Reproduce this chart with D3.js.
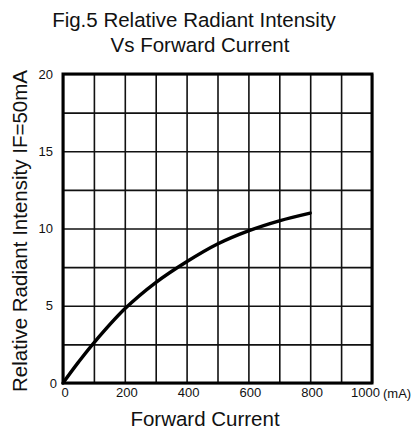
<!DOCTYPE html>
<html lang="en">
<head>
<meta charset="utf-8">
<title>Fig.5 Relative Radiant Intensity Vs Forward Current</title>
<script src="https://cdn.jsdelivr.net/npm/d3@7"></script>
<style>
  body { margin: 0; background: #fff; }
  text { font-family: "Liberation Sans", Arial, sans-serif; fill: #111; }
</style>
</head>
<body>
<script>
// values
var current = [0, 50, 100, 200, 300, 400, 500, 600, 700, 800];
var intensity = [0, 1.35, 2.6, 4.8, 6.5, 7.85, 9.0, 9.85, 10.5, 11.0];
var xTickLabels = [0, 200, 400, 600, 800, 1000];
var yTickLabels = [0, 5, 10, 15, 20];
var xGrid = d3.range(0, 1001, 100);
var yGrid = d3.range(0, 20.01, 2.5);

var w = 416, h = 432;
// "top" is taken by window.top, so use plot_* names
var plot_l = 63, plot_r = 372, plot_t = 74, plot_b = 383;

var svg = d3.select("body").append("svg").attr("width", w).attr("height", h);

var x = d3.scaleLinear().domain([0, 1000]).range([plot_l, plot_r]);
var y = d3.scaleLinear().domain([0, 20]).range([plot_b, plot_t]);

// grid lines
svg.append("g")
   .attr("transform", "translate(0," + plot_b + ")")
   .call(d3.axisBottom(x).tickValues(xGrid).tickSize(-(plot_b - plot_t)).tickFormat(""))
   .call(function (g) { g.select(".domain").remove(); })
   .selectAll("line").attr("stroke", "#111").attr("stroke-width", 1.6);

svg.append("g")
   .attr("transform", "translate(" + plot_l + ",0)")
   .call(d3.axisLeft(y).tickValues(yGrid).tickSize(-(plot_r - plot_l)).tickFormat(""))
   .call(function (g) { g.select(".domain").remove(); })
   .selectAll("line").attr("stroke", "#111").attr("stroke-width", 1.6);

// frame
svg.append("rect")
   .attr("x", plot_l).attr("y", plot_t)
   .attr("width", plot_r - plot_l).attr("height", plot_b - plot_t)
   .attr("fill", "none").attr("stroke", "#000").attr("stroke-width", 3);

// tick labels
var xAxis = svg.append("g")
   .attr("transform", "translate(0," + plot_b + ")")
   .call(d3.axisBottom(x).tickValues(xTickLabels).tickFormat(d3.format("d")).tickSize(0).tickPadding(5));
xAxis.select(".domain").remove();
// the 1000 label sits left of its line to leave room for the unit
xAxis.selectAll("text").attr("font-size", "13px").attr("font-family", null).attr("fill", "#111")
   .attr("dx", function (d) { return d === 1000 ? -7 : 1.5; });

var yAxis = svg.append("g")
   .attr("transform", "translate(" + plot_l + ",0)")
   .call(d3.axisLeft(y).tickValues(yTickLabels).tickFormat(d3.format("d")).tickSize(0).tickPadding(10));
yAxis.select(".domain").remove();
yAxis.selectAll("text").attr("font-size", "13px").attr("font-family", null).attr("fill", "#111")
   .attr("dx", function (d) { return d === 0 ? 4 : 0; });

svg.append("text")
   .attr("x", x(1000) + 11).attr("y", plot_b + 15)
   .attr("font-size", "13px")
   .text("(mA)");

// curve
var line = d3.line()
   .x(function (d, i) { return x(current[i]); })
   .y(function (d) { return y(d); })
   .curve(d3.curveCatmullRom.alpha(0.5));

svg.append("path")
   .datum(intensity)
   .attr("d", line)
   .attr("fill", "none")
   .attr("stroke", "#000")
   .attr("stroke-width", 3.4)
   .attr("stroke-linecap", "round");

// titles
svg.append("text")
   .attr("x", 194).attr("y", 27)
   .attr("text-anchor", "middle").attr("font-size", "20.5px")
   .text("Fig.5 Relative Radiant Intensity");
svg.append("text")
   .attr("x", 200).attr("y", 52)
   .attr("text-anchor", "middle").attr("font-size", "20.5px")
   .text("Vs Forward Current");

svg.append("text")
   .attr("x", 205).attr("y", 426)
   .attr("text-anchor", "middle").attr("font-size", "20.5px")
   .text("Forward Current");

svg.append("text")
   .attr("transform", "translate(27,231) rotate(-90)")
   .attr("text-anchor", "middle").attr("font-size", "20.5px")
   .text("Relative Radiant Intensity IF=50mA");
</script>
</body>
</html>
